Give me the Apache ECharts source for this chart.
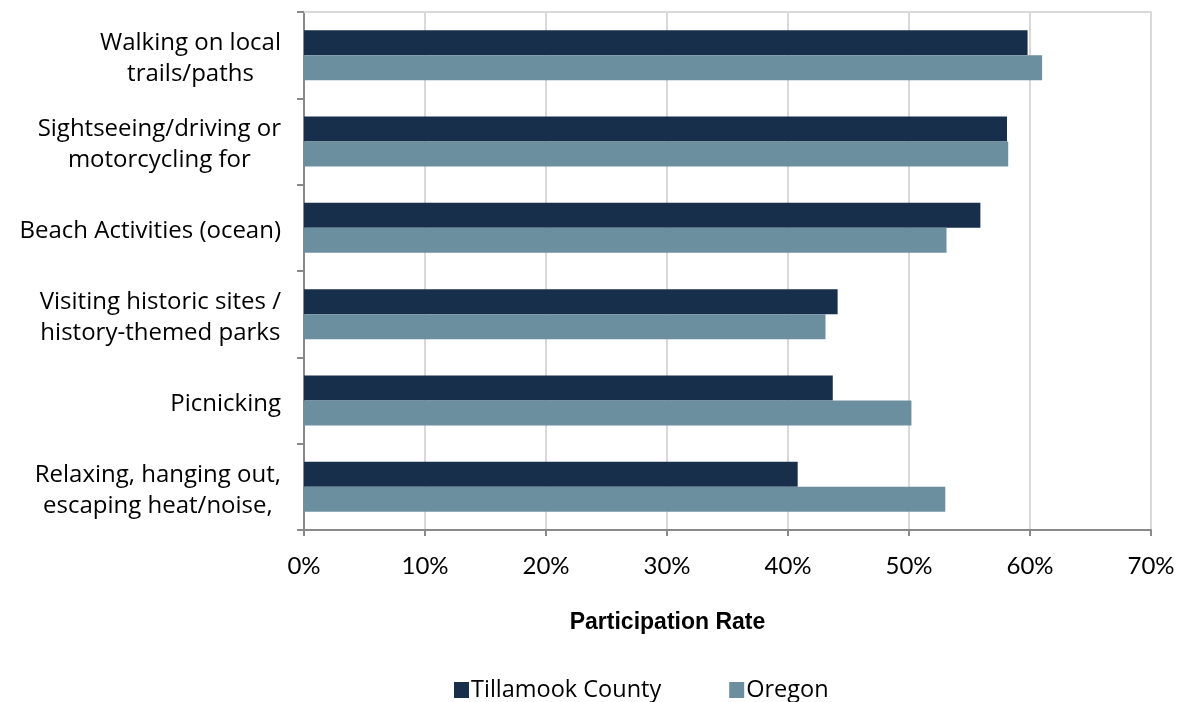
<!DOCTYPE html>
<html>
<head>
<meta charset="utf-8">
<script src="https://cdn.jsdelivr.net/npm/echarts@6/dist/echarts.min.js"></script>
<style>
html,body{margin:0;padding:0;background:#fff;}
#chart{width:1182px;height:702px;}
</style>
</head>
<body>
<div id="chart"></div>
<script>
const categories = [
  "Walking on local\ntrails/paths",
  "Sightseeing/driving or\nmotorcycling for",
  "Beach Activities (ocean)",
  "Visiting historic sites /\nhistory-themed parks",
  "Picnicking",
  "Relaxing, hanging out,\nescaping heat/noise,"
];
const tillamook = [59.8, 58.1, 55.9, 44.1, 43.7, 40.8];
const oregon = [61.0, 58.2, 53.1, 43.1, 50.2, 53.0];
const seriesNames = ["Tillamook County", "Oregon"];
const xAxisTitle = "Participation Rate";

const chart = echarts.init(document.getElementById('chart'), null, {renderer: 'canvas'});
const labelFont = "'Open Sans', sans-serif";
chart.setOption({
  animation: false,
  color: ['#172f4a', '#6c8fa0'],
  grid: {left: 304, right: 31, top: 12, bottom: 172, containLabel: false},
  legend: {
    data: seriesNames,
    left: 449, top: 673,
    itemWidth: 15, itemHeight: 16, itemGap: 68,
    icon: 'rect',
    textStyle: {fontFamily: labelFont, fontSize: 23.5, color: '#000', padding: [0, 0, 0, -3]}
  },
  xAxis: [{
    type: 'value', min: 0, max: 70, interval: 10,
    axisLabel: {formatter: '{value}%', fontFamily: "Lato, sans-serif", fontSize: 24, color: '#000', margin: 24},
    axisLine: {show: true, lineStyle: {color: '#898989', width: 2}},
    axisTick: {show: true, length: 6, lineStyle: {color: '#898989', width: 2}},
    splitLine: {show: true, lineStyle: {color: '#d9d9d9', width: 2}},
    name: xAxisTitle, nameLocation: 'middle', nameGap: 81,
    nameTextStyle: {fontFamily: "'Liberation Sans', Arial, sans-serif", fontWeight: 'bold', fontSize: 23, color: '#000', padding: [0, 120, 0, 0]}
  }, {
    type: 'value', position: 'top', min: 0, max: 70, interval: 10,
    axisLabel: {show: false}, axisTick: {show: false}, splitLine: {show: false},
    axisLine: {show: true, lineStyle: {color: '#d9d9d9', width: 2}}
  }],
  yAxis: {
    type: 'category', data: categories, inverse: true,
    axisLine: {show: true, lineStyle: {color: '#898989', width: 2}},
    axisTick: {show: true, length: 7, lineStyle: {color: '#898989', width: 2}},
    axisLabel: {
      margin: 23, align: 'right', color: '#000',
      fontFamily: labelFont, fontSize: 24, lineHeight: 31,
      padding: [7, 0, 0, 0],
      formatter: function (v) { return v.split('\n').map(s => '{c|' + s + '}').join('\n'); },
      rich: {c: {align: 'center', fontFamily: labelFont, fontSize: 24, lineHeight: 31, color: '#000'}}
    }
  },
  series: [
    {name: seriesNames[0], type: 'bar', data: tillamook, barWidth: 25, barGap: '0%'},
    {name: seriesNames[1], type: 'bar', data: oregon, barWidth: 25, barGap: '0%'}
  ]
});
</script>
</body>
</html>
